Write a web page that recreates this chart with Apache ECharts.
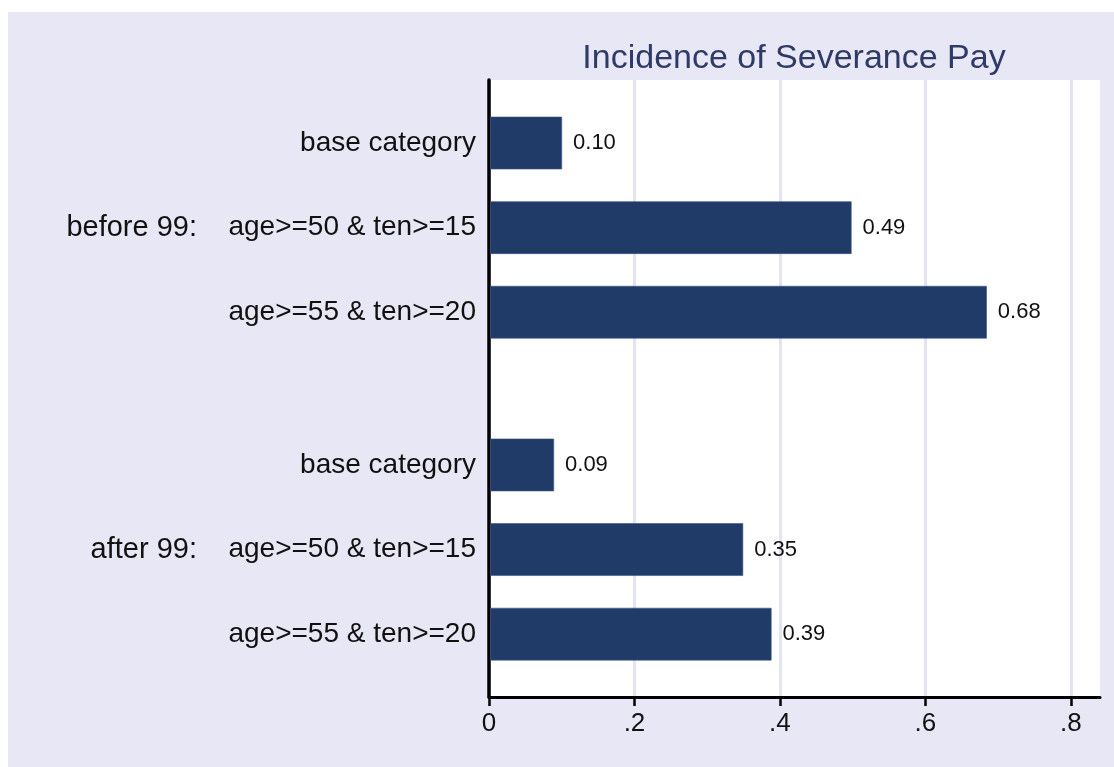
<!DOCTYPE html>
<html>
<head>
<meta charset="utf-8">
<script src="https://cdn.jsdelivr.net/npm/echarts@6/dist/echarts.min.js"></script>
<style>
html,body{margin:0;padding:0;background:#fff;}
#c{position:absolute;left:8px;top:12px;width:1106px;height:755px;}
</style>
</head>
<body>
<div id="c"></div>
<script>
// ---- data ----
const groups = ['before 99:', 'after 99:'];
const rowLabels = ['base category', 'age>=50 & ten>=15', 'age>=55 & ten>=20'];
const before99 = [0.100, 0.498, 0.684];
const after99 = [0.089, 0.349, 0.388];
const before99Text = ['0.10', '0.49', '0.68'];
const after99Text = ['0.09', '0.35', '0.39'];
const xTickLabels = ['0', '.2', '.4', '.6', '.8'];
const xTickValues = [0, 0.2, 0.4, 0.6, 0.8];
const title = 'Incidence of Severance Pay';

// ---- layout helper: row position along the y axis ----
const GROUP_STEP = 3.805; // rows per group incl. the gap between groups
const seriesValues = [before99, after99];
const seriesText = [before99Text, after99Text];
const barData = [];
const rowPos = [];
const rowName = {};
seriesValues.forEach((vals, g) => {
  vals.forEach((v, i) => {
    const p = +(g * GROUP_STEP + i).toFixed(3);
    barData.push({ value: [v, p], labelText: seriesText[g][i] });
    rowPos.push(p);
    rowName[p] = rowLabels[i];
  });
});
const groupData = groups.map((name, g) => ({ value: [0, +(g * GROUP_STEP + 1).toFixed(3)], name }));

const FONT = 'Liberation Sans, Arial, sans-serif';
const chart = echarts.init(document.getElementById('c'));
chart.setOption({
  backgroundColor: '#E7E7F5',
  animation: false,
  title: {
    text: title,
    left: 786,
    top: 30,
    padding: 0,
    textAlign: 'center',
    textStyle: { fontFamily: FONT, fontSize: 34, fontWeight: 'normal', color: '#2F3A66', lineHeight: 34 }
  },
  grid: {
    left: 481, right: 14, top: 68, bottom: 70,
    show: true, backgroundColor: '#ffffff', borderWidth: 0
  },
  xAxis: {
    type: 'value',
    min: 0, max: 0.84,
    axisLine: { show: true, onZero: false, lineStyle: { color: '#000', width: 3 } },
    axisTick: { show: true, length: 9, lineStyle: { color: '#000', width: 2.5 }, customValues: xTickValues },
    axisLabel: {
      customValues: xTickValues,
      margin: 14,
      fontFamily: FONT, fontSize: 26, color: '#111',
      formatter: v => { const k = xTickValues.findIndex(t => Math.abs(t - v) < 1e-6); return k >= 0 ? xTickLabels[k] : ''; }
    },
    splitLine: { show: true, lineStyle: { color: '#E3E3F4', width: 3 } }
  },
  yAxis: {
    type: 'value',
    inverse: true,
    min: -0.745, max: 6.548,
    axisLine: { show: true, onZero: false, lineStyle: { color: '#000', width: 3.5 } },
    axisTick: { show: false },
    splitLine: { show: false },
    axisLabel: {
      customValues: rowPos,
      margin: 13,
      fontFamily: FONT, fontSize: 28, color: '#111',
      formatter: v => { const k = rowPos.findIndex(p => Math.abs(p - v) < 1e-3); return k >= 0 ? rowName[rowPos[k]] : ''; }
    }
  },
  series: [
    {
      type: 'custom',
      data: barData,
      clip: false,
      renderItem: (params, api) => {
        const x = api.value(0), y = api.value(1);
        const p0 = api.coord([0, y]);
        const p1 = api.coord([x, y]);
        const h = 52;
        const left = p0[0] + 1.5;
        return {
          type: 'rect',
          shape: { x: left, y: p0[1] - h / 2, width: p1[0] - left, height: h },
          style: { fill: '#213B69', stroke: '#3A5584', lineWidth: 0.6 },
          textContent: {
            style: {
              text: barData[params.dataIndex].labelText,
              fontFamily: FONT, fontSize: 22, fill: '#111'
            }
          },
          textConfig: { position: 'right', distance: 11 }
        };
      },
      encode: { x: 0, y: 1 },
      z: 3
    },
    {
      type: 'scatter',
      data: groupData,
      symbolSize: 0,
      silent: true,
      clip: false,
      itemStyle: { opacity: 1 },
      label: {
        show: true,
        position: 'left',
        distance: 292,
        opacity: 1,
        formatter: p => p.data.name,
        fontFamily: FONT, fontSize: 29, color: '#111'
      }
    }
  ]
});
</script>
</body>
</html>
